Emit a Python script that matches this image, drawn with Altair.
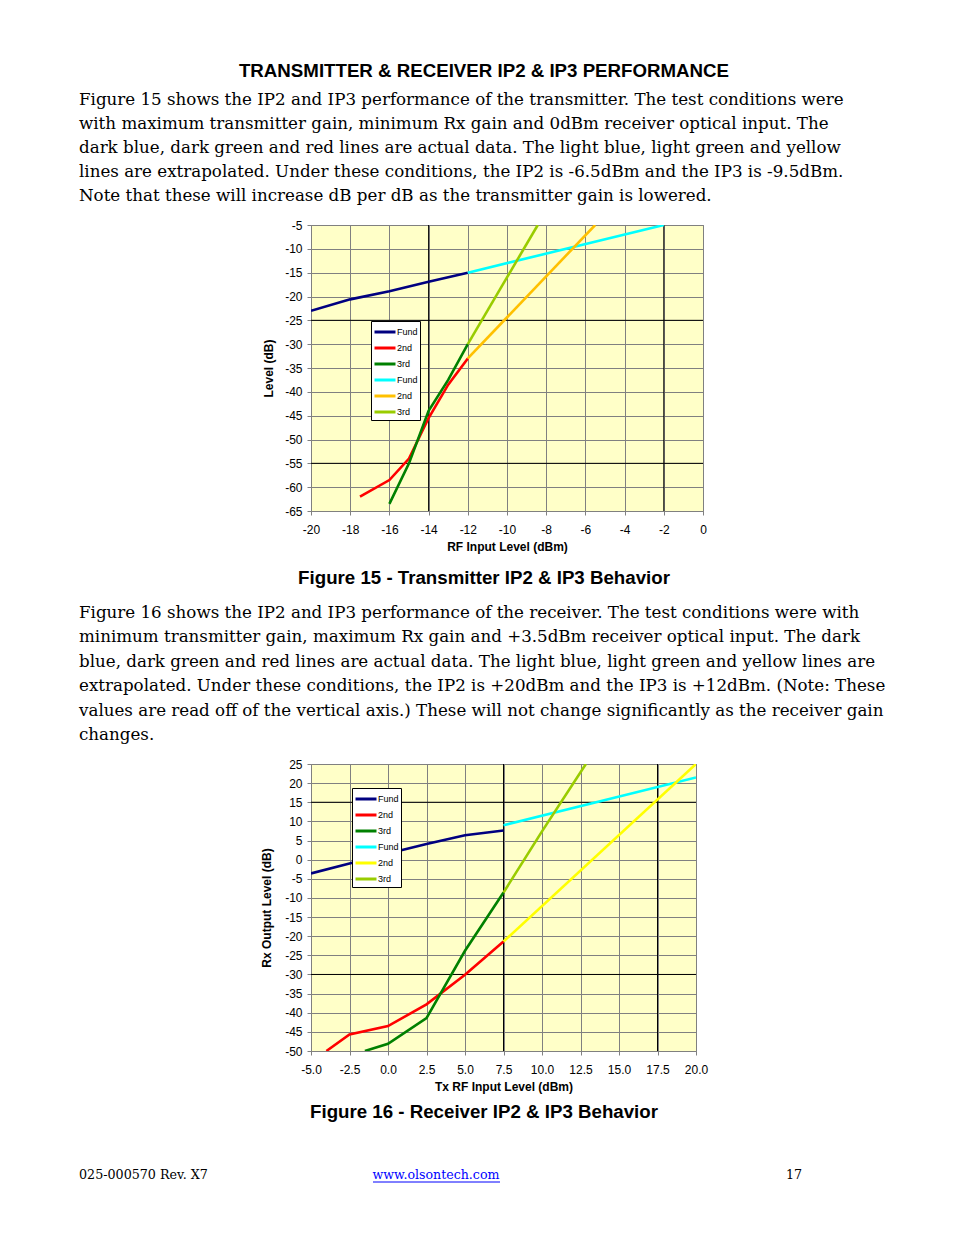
import altair as alt
import pandas as pd

# ---------------- data ----------------
SERIES = ["Fund", "2nd", "3rd", "Fund ", "2nd ", "3rd "]
TX_COLORS = ["#000080", "#FF0000", "#008000", "#00FFFF", "#FFC000", "#99CC00"]
RX_COLORS = ["#000080", "#FF0000", "#008000", "#00FFFF", "#FFFF00", "#99CC00"]

# Figure 15 (transmitter)
tx_fund_x = [-20, -18, -16, -14, -12]
tx_fund_y = [-23, -20.6, -18.9, -16.9, -15]
tx_2nd_x = [-17.5, -16, -15, -14, -13, -12]
tx_2nd_y = [-62, -58.5, -54, -45.5, -38.5, -33]
tx_3rd_x = [-16, -15, -14, -13, -12]
tx_3rd_y = [-63.5, -55, -44, -37.5, -30]
tx_fund_ext_x = [-12, -2]
tx_fund_ext_y = [-15, -5]
tx_2nd_ext_x = [-12, -5.5]
tx_2nd_ext_y = [-33, -5]
tx_3rd_ext_x = [-12, -8.43]
tx_3rd_ext_y = [-30, -5]

# Figure 16 (receiver)
rx_fund_x = [-5, -2.5, 0, 2.5, 5, 7.5]
rx_fund_y = [-3.6, -1.0, 1.6, 4.1, 6.4, 7.6]
rx_2nd_x = [-4, -2.5, 0, 2.5, 5, 7.5]
rx_2nd_y = [-50, -45.7, -43.5, -37.8, -30.1, -21.4]
rx_3rd_x = [-1.5, 0, 2.5, 5, 7.5]
rx_3rd_y = [-50, -48.1, -41.4, -23.8, -8.6]
rx_fund_ext_x = [7.5, 20]
rx_fund_ext_y = [9.0, 21.5]
rx_2nd_ext_x = [7.5, 20]
rx_2nd_ext_y = [-21.4, 25]
rx_3rd_ext_x = [7.5, 10, 12.85]
rx_3rd_ext_y = [-8.6, 7.4, 25]

tx_xticks = list(range(-20, 1, 2))
tx_yticks = list(range(-65, -4, 5))
rx_xticks = [-5.0, -2.5, 0.0, 2.5, 5.0, 7.5, 10.0, 12.5, 15.0, 17.5, 20.0]
rx_yticks = list(range(-50, 26, 5))

tx_major_x = [-14, -2]
tx_major_y = [-25, -55]
rx_major_x = [7.5, 17.5]
rx_major_y = [15, -30]

HEADER = "TRANSMITTER & RECEIVER IP2 & IP3 PERFORMANCE"
PARA1 = [
    "Figure 15 shows the IP2 and IP3 performance of the transmitter. The test conditions were",
    "with maximum transmitter gain, minimum Rx gain and 0dBm receiver optical input. The",
    "dark blue, dark green and red lines are actual data. The light blue, light green and yellow",
    "lines are extrapolated. Under these conditions, the IP2 is -6.5dBm and the IP3 is -9.5dBm.",
    "Note that these will increase dB per dB as the transmitter gain is lowered.",
]
CAPTION1 = "Figure 15 - Transmitter IP2 & IP3 Behavior"
PARA2 = [
    "Figure 16 shows the IP2 and IP3 performance of the receiver. The test conditions were with",
    "minimum transmitter gain, maximum Rx gain and +3.5dBm receiver optical input. The dark",
    "blue, dark green and red lines are actual data. The light blue, light green and yellow lines are",
    "extrapolated. Under these conditions, the IP2 is +20dBm and the IP3 is +12dBm. (Note: These",
    "values are read off of the vertical axis.) These will not change significantly as the receiver gain",
    "changes.",
]
CAPTION2 = "Figure 16 - Receiver IP2 & IP3 Behavior"
FOOT_LEFT = "025-000570 Rev. X7"
FOOT_LINK = "www.olsontech.com"
FOOT_PAGE = "17"


def build_df(items):
    rows = []
    for name, xs, ys in items:
        for x, y in zip(xs, ys):
            rows.append({"x": x, "y": y, "series": name})
    return pd.DataFrame(rows)


tx_df = build_df([
    ("Fund", tx_fund_x, tx_fund_y), ("2nd", tx_2nd_x, tx_2nd_y), ("3rd", tx_3rd_x, tx_3rd_y),
    ("Fund ", tx_fund_ext_x, tx_fund_ext_y), ("2nd ", tx_2nd_ext_x, tx_2nd_ext_y),
    ("3rd ", tx_3rd_ext_x, tx_3rd_ext_y),
])
rx_df = build_df([
    ("Fund", rx_fund_x, rx_fund_y), ("2nd", rx_2nd_x, rx_2nd_y), ("3rd", rx_3rd_x, rx_3rd_y),
    ("Fund ", rx_fund_ext_x, rx_fund_ext_y), ("2nd ", rx_2nd_ext_x, rx_2nd_ext_y),
    ("3rd ", rx_3rd_ext_x, rx_3rd_ext_y),
])

ONE = pd.DataFrame({"k": [0]})
SERIF = "DejaVu Serif"
SANS = "Liberation Sans"
PARA_SIZE = 16.7
HEAD_SIZE = 18.7
# legend symbol: a horizontal stroke wider than its nominal size box
LEG_SYMBOL = "M-1.4,0H1.4"


def text_layer(text, x, y, font=SERIF, size=PARA_SIZE, weight="normal", align="left", color="black",
               line_height=None):
    kw = dict(text=text, font=font, fontSize=size, fontWeight=weight, align=align,
              baseline="alphabetic", color=color)
    if line_height is not None:
        kw["lineHeight"] = line_height
    return alt.Chart(ONE).mark_text(**kw).encode(x=alt.value(x), y=alt.value(y))


def hyphen_expr(fmt):
    return f"(datum.value < 0 ? '-' : '') + format(abs(datum.value), '{fmt}')"


def panel(df, colors, xdom, xvals, xfmt, xtitle, ydom, yvals, ytitle, ytitle_pad,
          vlines, hlines, leg_x, leg_y, w, h, extras):
    x_enc = alt.X("x:Q", scale=alt.Scale(domain=xdom, nice=False, zero=False),
                  axis=alt.Axis(values=xvals, labelExpr=hyphen_expr(xfmt), title=xtitle,
                                labelFlush=False, labelOverlap=False))
    y_enc = alt.Y("y:Q", scale=alt.Scale(domain=ydom, nice=False, zero=False),
                  axis=alt.Axis(values=yvals, labelExpr=hyphen_expr("d"), title=ytitle,
                                titlePadding=ytitle_pad, labelFlush=False, labelOverlap=False))
    vr = alt.Chart(pd.DataFrame({"x": vlines})).mark_rule(color="black", strokeWidth=1).encode(x=x_enc)
    hr = alt.Chart(pd.DataFrame({"y": hlines})).mark_rule(color="black", strokeWidth=1).encode(y=y_enc)
    lines = alt.Chart(df).mark_line(strokeWidth=2.6, clip=True).encode(
        x=x_enc, y=y_enc,
        color=alt.Color("series:N", scale=alt.Scale(domain=SERIES, range=colors),
                        legend=alt.Legend(orient="none", legendX=leg_x, legendY=leg_y, title=None,
                                          fillColor="white", strokeColor="black", padding=2,
                                          symbolType=LEG_SYMBOL, symbolStrokeWidth=3, symbolSize=225,
                                          labelFont=SANS, labelFontSize=9, labelColor="black",
                                          labelOffset=3, symbolOffset=3, rowPadding=1)),
    )
    return alt.layer(vr, hr, lines, *extras).properties(width=w, height=h)


# panel 1 : plot origin at page (310, 224); page origin (8, 8) is at (-302, -216)
anchor = alt.Chart(ONE).mark_rect(opacity=0).encode(
    x=alt.value(-302), x2=alt.value(-300), y=alt.value(-216), y2=alt.value(-214))
p1_extras = [
    anchor,
    text_layer(HEADER, 173, -148.5, font=SANS, size=HEAD_SIZE, weight="bold", align="center"),
    text_layer(PARA1, -232, -120.5, line_height=24.2),
    text_layer(CAPTION1, 173, 359, font=SANS, size=HEAD_SIZE, weight="bold", align="center"),
]
p1 = panel(tx_df, TX_COLORS, [-20, 0], tx_xticks, "d", "RF Input Level (dBm)",
           [-65, -5], tx_yticks, "Level (dB)", 9, tx_major_x, tx_major_y, 60, 96,
           392, 286, p1_extras)

# panel 2 : plot origin at page (310, 763)
p2_extras = [
    text_layer(PARA2, -232, -146, line_height=24.4),
    text_layer(CAPTION2, 173, 354, font=SANS, size=HEAD_SIZE, weight="bold", align="center"),
    text_layer(FOOT_LEFT, -232, 415, size=12.7),
    text_layer(FOOT_LINK, 125, 415, size=12.6, align="center", color="#0000FF"),
    text_layer(FOOT_PAGE, 475, 415, size=12.7),
    alt.Chart(ONE).mark_rule(color="#0000FF", strokeWidth=1).encode(
        x=alt.value(62), x2=alt.value(189), y=alt.value(418)),
]
p2 = panel(rx_df, RX_COLORS, [-5, 20], rx_xticks, ".1f", "Tx RF Input Level (dBm)",
           [-50, 25], rx_yticks, "Rx Output Level (dB)", 11, rx_major_x, rx_major_y, 41, 24,
           385, 287, p2_extras)

chart = alt.vconcat(p1, p2, spacing=253, bounds="flush").resolve_scale(
    x="independent", y="independent", color="independent"
).resolve_legend(color="independent").properties(
    padding={"left": 0, "top": 0, "right": 0, "bottom": 0}
).configure_view(
    fill="#FFFFC8", stroke="#808080", strokeWidth=1
).configure_axis(
    labelFont=SANS, labelFontSize=12, labelColor="black",
    titleFont=SANS, titleFontSize=12, titleFontWeight="bold", titleColor="black",
    grid=True, gridColor="#808080", gridOpacity=1, gridWidth=1,
    domain=False, ticks=True, tickColor="#808080", tickSize=4,
).configure_axisX(labelPadding=9, titlePadding=6).configure_axisY(labelPadding=5)

chart.save("out.html", embed_options={"renderer": "svg", "actions": False})
